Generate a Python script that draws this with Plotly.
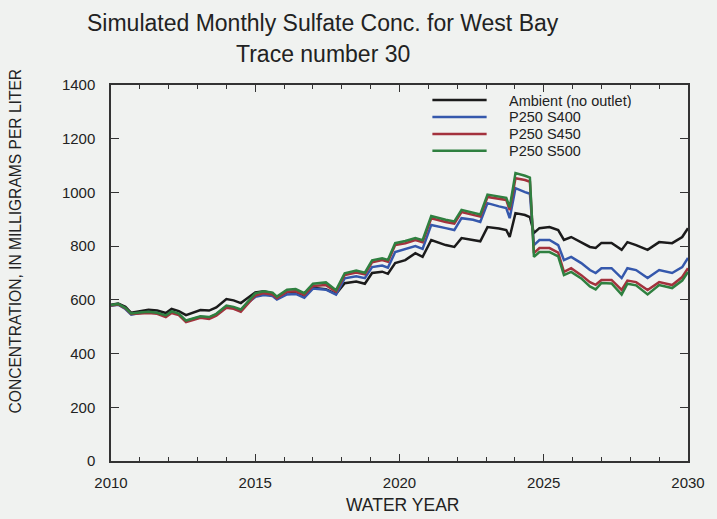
import plotly.graph_objects as go

# Water-year time stamps (fractional years) and simulated sulfate concentrations (mg/L)
water_year = [
    2010.00, 2010.25, 2010.50, 2010.70, 2011.00, 2011.30, 2011.60, 2011.90,
    2012.10, 2012.35, 2012.60, 2012.90, 2013.10, 2013.40, 2013.65, 2014.00,
    2014.25, 2014.50, 2014.80, 2015.00, 2015.30, 2015.60, 2015.75, 2016.10,
    2016.40, 2016.70, 2017.00, 2017.45, 2017.80, 2018.10, 2018.50, 2018.80,
    2019.05, 2019.40, 2019.60, 2019.85, 2020.20, 2020.55, 2020.80, 2021.10,
    2021.60, 2021.90, 2022.15, 2022.55, 2022.80, 2023.05, 2023.45, 2023.70,
    2023.82, 2024.02, 2024.35, 2024.52, 2024.66, 2024.85, 2025.20, 2025.50,
    2025.70, 2025.95, 2026.30, 2026.60, 2026.80, 2027.00, 2027.35, 2027.70,
    2027.90, 2028.20, 2028.60, 2029.00, 2029.45, 2029.80, 2030.00,
]

ambient = [
    582, 586, 574, 552, 558, 563, 560, 551,
    566, 558, 543, 555, 562, 560, 572, 603,
    598, 588, 614, 628, 632, 624, 610, 628,
    630, 616, 645, 640, 622, 662, 668, 660,
    700, 705, 697, 737, 748, 774, 760, 823,
    804, 797, 830, 823, 818, 871, 866, 860,
    834, 923, 916, 908, 849, 867, 871, 860,
    823, 834, 815, 797, 793, 812, 812, 786,
    815, 804, 786, 815, 811, 834, 867,
]

p250_s400 = [
    578, 582, 566, 545, 551, 555, 551, 540,
    555, 546, 521, 530, 537, 534, 546, 576,
    571, 561, 594, 611, 618, 614, 601, 620,
    622, 608, 642, 638, 620, 680, 688, 681,
    722, 728, 720, 778, 790, 800, 790, 879,
    867, 860, 904, 898, 890, 960, 948, 942,
    904, 1016, 1001, 995, 804, 823, 823, 804,
    748, 760, 737, 711, 700, 718, 718, 681,
    718, 711, 681, 711, 700, 722, 756,
]

p250_s450 = [
    579, 583, 568, 547, 549, 551, 548, 536,
    551, 543, 517, 526, 533, 529, 541, 571,
    567, 556, 591, 616, 625, 620, 606, 630,
    632, 618, 652, 655, 630, 692, 702, 695,
    740, 748, 742, 804, 811, 823, 815, 904,
    890, 884, 927, 916, 910, 983, 975, 972,
    934, 1053, 1046, 1040, 774, 793, 793, 776,
    704, 718, 692, 666, 656, 674, 674, 637,
    672, 666, 637, 666, 655, 685, 718,
]

p250_s500 = [
    581, 585, 570, 549, 553, 556, 552, 542,
    557, 549, 523, 532, 539, 536, 548, 579,
    574, 564, 600, 624, 632, 627, 612, 638,
    640, 625, 660, 665, 636, 699, 709, 701,
    747, 755, 749, 811, 819, 830, 822, 912,
    898, 892, 935, 924, 918, 992, 985, 980,
    945, 1072, 1062, 1055, 760, 778, 778, 762,
    692, 704, 680, 650, 639, 663, 661, 620,
    660, 654, 620, 655, 644, 672, 704,
]

series_names = ["Ambient (no outlet)", "P250 S400", "P250 S450", "P250 S500"]
series_values = [ambient, p250_s400, p250_s450, p250_s500]
series_colors = ["#1b1b1b", "#3558ac", "#a3323d", "#2f8040"]

x_ticks = [2010, 2015, 2020, 2025, 2030]
y_ticks = [0, 200, 400, 600, 800, 1000, 1200, 1400]

FONT = "Liberation Sans, Arial, sans-serif"
INK = "#222222"
BG = "#f0f2f0"

fig = go.Figure()
for name, vals, color in zip(series_names, series_values, series_colors):
    fig.add_trace(go.Scatter(
        x=water_year, y=vals, mode="lines", name=name,
        line=dict(color=color, width=2.5),
        showlegend=False,
    ))

# Key drawn inside the plot area, upper right
key_rows_y = [0.960, 0.915, 0.870, 0.825]
for name, color, ky in zip(series_names, series_colors, key_rows_y):
    fig.add_shape(type="line", xref="paper", yref="paper",
                  x0=0.557, x1=0.651, y0=ky, y1=ky,
                  line=dict(color=color, width=2.5))
    fig.add_annotation(xref="paper", yref="paper", x=0.688, y=ky,
                       text=name, showarrow=False, xanchor="left", yanchor="middle",
                       borderpad=0, height=15,
                       font=dict(family=FONT, size=14.5, color=INK))

# Two-line title
fig.add_annotation(xref="paper", yref="paper", x=0.367, y=1.165,
                   text="Simulated Monthly Sulfate Conc. for West Bay",
                   showarrow=False, xanchor="center", yanchor="middle",
                   font=dict(family=FONT, size=23, color=INK))
fig.add_annotation(xref="paper", yref="paper", x=0.367, y=1.083,
                   text="Trace number 30",
                   showarrow=False, xanchor="center", yanchor="middle",
                   font=dict(family=FONT, size=23, color=INK))

# Axis titles
fig.add_annotation(xref="paper", yref="paper", x=0.505, y=-0.117,
                   text="WATER YEAR", showarrow=False,
                   xanchor="center", yanchor="middle",
                   font=dict(family=FONT, size=17.5, color=INK))
fig.add_annotation(xref="paper", yref="paper", x=-0.165, y=0.586,
                   text="CONCENTRATION, IN MILLIGRAMS PER LITER", showarrow=False,
                   textangle=-90, xanchor="center", yanchor="middle",
                   font=dict(family=FONT, size=15.6, color=INK))

fig.update_xaxes(
    range=[2010, 2030], tickvals=x_ticks, ticktext=[str(v) for v in x_ticks],
    ticks="inside", ticklen=7, tickwidth=1, tickcolor="#333",
    minor=dict(dtick=1, ticks="inside", ticklen=4, tickwidth=1, tickcolor="#333"),
    showline=True, linecolor="#333", linewidth=1.5, mirror="allticks",
    showgrid=False, zeroline=False, ticklabelstandoff=7,
    tickfont=dict(family=FONT, size=15, color=INK),
)
fig.update_yaxes(
    range=[0, 1400], tickvals=y_ticks, ticktext=[str(v) for v in y_ticks],
    ticks="inside", ticklen=8, tickwidth=1, tickcolor="#333",
    showline=True, linecolor="#333", linewidth=1.5, mirror="allticks",
    showgrid=False, zeroline=False, ticklabelstandoff=11,
    tickfont=dict(family=FONT, size=15, color=INK),
)

fig.update_layout(
    width=717, height=519,
    margin=dict(l=111, r=18, t=85, b=58),
    paper_bgcolor=BG, plot_bgcolor=BG,
    showlegend=False,
)

fig.write_html("out.html")
